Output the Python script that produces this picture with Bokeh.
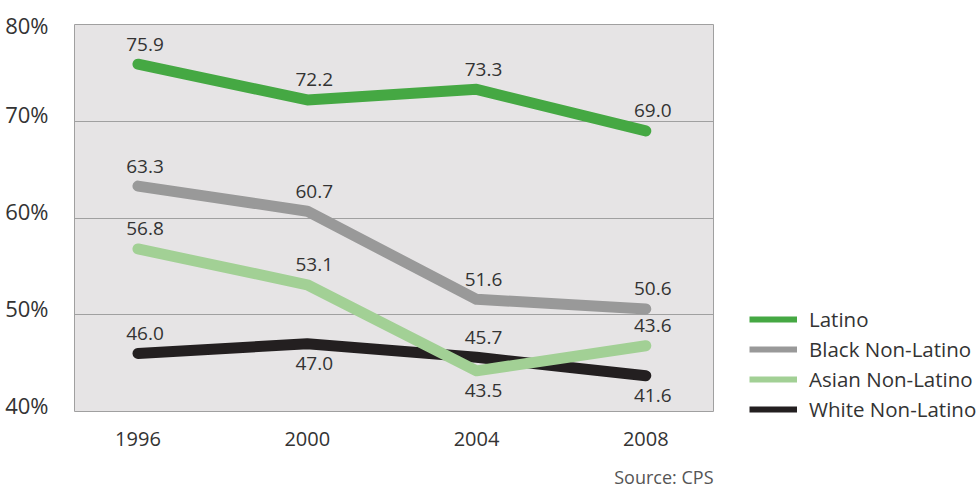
from bokeh.plotting import figure
from bokeh.models import FixedTicker, Legend, LegendItem, Title, ColumnDataSource
from bokeh.core.properties import value
from bokeh.embed import file_html
from bokeh.resources import INLINE

years = [1996, 2000, 2004, 2008]
latino = [75.9, 72.2, 73.3, 69.0]
black = [63.3, 60.7, 51.6, 50.6]
asian = [56.8, 53.1, 44.2, 46.8]
white = [46.0, 47.0, 45.6, 43.7]

latino_labels = ["75.9", "72.2", "73.3", "69.0"]
black_labels = ["63.3", "60.7", "51.6", "50.6"]
asian_labels = ["56.8", "53.1", "43.5", "43.6"]
white_labels = ["46.0", "47.0", "45.7", "41.6"]

series_names = ["Latino", "Black Non-Latino", "Asian Non-Latino", "White Non-Latino"]
y_ticks = [40, 50, 60, 70, 80]
y_tick_labels = ["40%", "50%", "60%", "70%", "80%"]
source_note = "Source: CPS"

colors = {"Latino": "#45a843", "Black Non-Latino": "#999999",
          "Asian Non-Latino": "#a2d095", "White Non-Latino": "#231f20"}
FONT = "Open Sans"
TXT = "#333333"

Y0, Y1 = 40, 80
p = figure(frame_width=639, frame_height=387, output_backend="svg", toolbar_location=None,
           x_range=(1994.5, 2009.6), y_range=(Y0, Y1),
           min_border_left=74, min_border_right=0, min_border_top=24, min_border_bottom=74)
p.background_fill_color = "#e6e4e5"
p.border_fill_color = "white"
p.outline_line_color = "#a0a0a0"
p.outline_line_width = 1

p.xgrid.visible = False
p.ygrid.ticker = FixedTicker(ticks=y_ticks)
p.ygrid.grid_line_color = "#a0a0a0"
p.ygrid.grid_line_width = 1

# tick labels sit slightly above their gridlines in the reference
# (the top one cannot leave the range, so it stays on its line)
label_lift = 0.7
y_label_pos = [min(t + label_lift, Y1) for t in y_ticks]
p.yaxis.ticker = FixedTicker(ticks=y_label_pos)
p.yaxis.major_label_overrides = {t: l for t, l in zip(y_label_pos, y_tick_labels)}
p.xaxis.ticker = FixedTicker(ticks=years)
p.xaxis.major_label_overrides = {y: str(y) for y in years}
for ax in (p.xaxis, p.yaxis):
    ax.axis_line_color = None
    ax.major_tick_line_color = None
    ax.minor_tick_line_color = None
    ax.major_label_text_font = FONT
    ax.major_label_text_color = TXT
p.yaxis.major_label_text_font_size = "22px"
p.xaxis.major_label_text_font_size = "20px"
p.yaxis.major_label_standoff = 20
p.xaxis.major_label_standoff = 14

data = [("Latino", latino, latino_labels, [-1, -1, -1, -1]),
        ("Black Non-Latino", black, black_labels, [-1, -1, -1, -1]),
        ("White Non-Latino", white, white_labels, [-1, 1, -1, 1]),
        ("Asian Non-Latino", asian, asian_labels, [-1, -1, 1, -1])]

for name, vals, labs, side in data:
    p.line(years, vals, line_color=colors[name], line_width=11,
           line_cap="round", line_join="round")

for name, vals, labs, side in data:
    src = ColumnDataSource(dict(x=years, y=vals, t=labs, off=[s * 20 for s in side]))
    p.text(x="x", y="y", text="t", y_offset="off", source=src,
           text_font=value(FONT), text_font_size="19px", text_color=TXT,
           text_align="center", text_baseline="middle", x_offset=7)

# legend-only swatches (drawn outside the visible range)
items = []
for name in series_names:
    r = p.line([1980, 1981], [0, 0], line_color=colors[name], line_width=6)
    items.append(LegendItem(label=name, renderers=[r]))

legend = Legend(items=items, location=(36, -13), orientation="vertical",
                glyph_width=48, glyph_height=30, label_height=30,
                label_standoff=12, spacing=0, padding=0, margin=0,
                label_text_font=FONT, label_text_font_size="20.5px",
                label_text_color=TXT, border_line_color=None,
                background_fill_alpha=0)
p.add_layout(legend, "right")

t = Title(text=source_note, align="right", text_font=FONT, text_font_size="18px",
          text_color="#555555", text_font_style="normal", standoff=28)
p.add_layout(t, "below")

open("out.html", "w").write(file_html(p, INLINE))
